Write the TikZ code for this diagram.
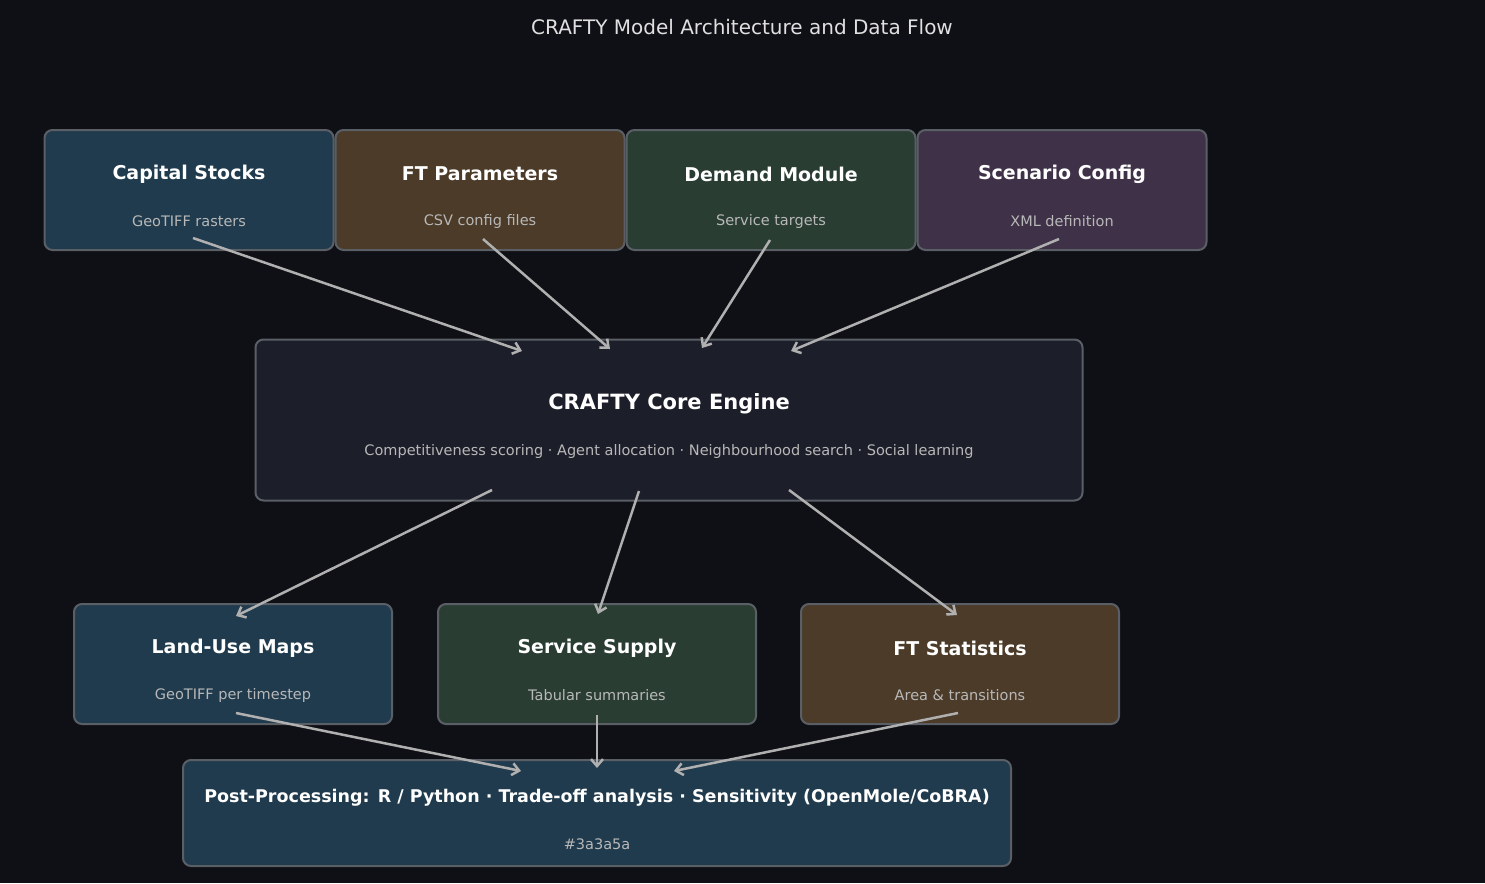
\documentclass[tikz,border=0pt]{standalone}
\usepackage{fontspec}
\setmainfont{DejaVu Sans}
\usetikzlibrary{arrows.meta,calc}
\definecolor{bg}{HTML}{0F1015}
\definecolor{blueF}{HTML}{203B4D}
\definecolor{brownF}{HTML}{4B3B28}
\definecolor{greenF}{HTML}{2A3D33}
\definecolor{purpleF}{HTML}{3F3248}
\definecolor{coreF}{HTML}{1C1E2A}
\definecolor{edge}{HTML}{5A5F66}
\definecolor{subtxt}{HTML}{B8B8B8}
\definecolor{arrowc}{HTML}{B0B0B0}
\tikzset{box/.style={draw=edge, line width=2pt, rounded corners=8pt, inner sep=0pt},
         ttl/.style={text=white, font=\bfseries\fontsize{19}{22}\selectfont},
         sub/.style={text=subtxt, font=\fontsize{14.5}{17}\selectfont},
         flow/.style={draw=arrowc, line width=2.5pt, -{Straight Barb[length=7pt,width=12pt]}}}
% block: name, x, y, width, height, fill, title, subtitle
\newcommand{\blk}[8]{%
  \node[box, fill=#6, minimum width=#4pt, minimum height=#5pt] (#1) at (#2,#3) {};
  \node[ttl] (#1t) at ($(#1.center)+(0,-16)$) {#7};
  \node[sub] (#1s) at ($(#1.center)+(0,31)$) {#8};}
\begin{document}
\begin{tikzpicture}[x=1pt, y=-1pt]
\fill[bg] (0,0) rectangle (1485,883);
\useasboundingbox (0,0) rectangle (1485,883);
\node[text=white!88!black, font=\fontsize{20}{24}\selectfont] (title) at (742,27) {CRAFTY Model Architecture and Data Flow};

\blk{cap}{189}{190}{289}{120}{blueF}{Capital Stocks}{GeoTIFF rasters}
\blk{ftp}{480}{190}{289}{120}{brownF}{FT Parameters}{CSV config files}
\blk{dem}{771}{190}{289}{120}{greenF}{Demand Module}{Service targets}
\blk{scn}{1062}{190}{289}{120}{purpleF}{Scenario Config}{XML definition}
\node[box, fill=coreF, minimum width=827pt, minimum height=161pt] (core) at (669,420) {};
\node[ttl, font=\bfseries\fontsize{21}{24}\selectfont] (coret) at (669,404) {CRAFTY Core Engine};
\node[sub] (cores) at (669,451) {Competitiveness scoring · Agent allocation · Neighbourhood search · Social learning};
\blk{lum}{233}{664}{318}{120}{blueF}{Land-Use Maps}{GeoTIFF per timestep}
\blk{sup}{597}{664}{318}{120}{greenF}{Service Supply}{Tabular summaries}
\blk{fts}{960}{664}{318}{120}{brownF}{FT Statistics}{Area \& transitions}
\node[box, fill=blueF, minimum width=828pt, minimum height=106pt] (post) at (597,813) {};
\node[ttl, font=\bfseries\fontsize{17.5}{21}\selectfont] (postt) at (597,798) {Post-Processing: R / Python · Trade-off analysis · Sensitivity (OpenMole/CoBRA)};
\node[sub] (posts) at (597,844) {\#3a3a5a};

% inputs to core
\draw[flow] ($(cap.center)+(4,48)$) -- ($(core.center)+(-147,-69)$);
\draw[flow] ($(ftp.center)+(3,49)$) -- ($(core.center)+(-59,-71)$);
\draw[flow] ($(dem.center)+(-1,50)$) -- ($(core.center)+(33,-72)$);
\draw[flow] ($(scn.center)+(-3,49)$) -- ($(core.center)+(122,-69)$);
% core to outputs
\draw[flow] ($(core.center)+(-177,70)$) -- ($(lum.center)+(3,-48)$);
\draw[flow] ($(core.center)+(-30,71)$) -- ($(sup.center)+(1,-50)$);
\draw[flow] ($(core.center)+(120,70)$) -- ($(fts.center)+(-3,-49)$);
% outputs to post
\draw[flow] ($(lum.center)+(3,49)$) -- ($(post.center)+(-76,-42)$);
\draw[flow] ($(sup.center)+(0,51)$) -- ($(post.center)+(0,-45)$);
\draw[flow] ($(fts.center)+(-2,49)$) -- ($(post.center)+(77,-42)$);
\end{tikzpicture}
\end{document}
